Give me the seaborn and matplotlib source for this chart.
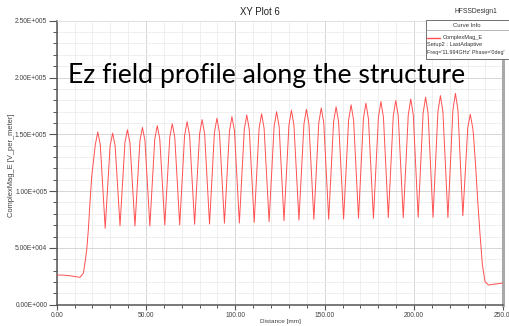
import math
import matplotlib
matplotlib.use("Agg")
import matplotlib.pyplot as plt
from matplotlib.lines import Line2D
from matplotlib.patches import Rectangle
from matplotlib.ticker import MultipleLocator, FuncFormatter
import pandas as pd
import seaborn as sns

# |E| along the structure, field values in kV/m, distance in mm
lead_in_mm = [0.0, 4.0, 8.4, 11.0, 13.0, 14.9, 15.8, 16.8, 17.7, 18.6, 19.6]
lead_in_kv = [26.1, 26.0, 25.3, 24.6, 24.1, 27.6, 36.4, 48.2, 65.8, 89.3, 112.7]

peak_mm = [23.0, 31.3, 39.6, 48.0, 56.3, 64.7, 73.0, 81.4, 89.7, 98.1,
           106.4, 114.7, 123.1, 131.4, 139.8, 148.1, 156.4, 164.8, 173.1,
           181.5, 189.8, 198.2, 206.5, 214.8, 223.2, 231.5]
peak_kv = [152.0, 151.0, 154.0, 156.0, 157.6, 159.3, 161.1, 162.9, 164.1,
           165.5, 167.0, 168.1, 169.9, 171.1, 172.0, 173.2, 174.2, 175.9,
           177.4, 178.8, 179.8, 181.1, 182.7, 184.1, 186.0, 167.6]
# level of each peak's rounded top, read 1.4 mm either side of the maximum
shoulder_kv = [140.7, 139.9, 142.7, 144.4, 145.8, 147.4, 149.0, 150.6, 151.7,
               152.9, 154.3, 155.3, 157.0, 158.1, 159.0, 160.1, 161.0, 162.5,
               163.8, 165.1, 166.0, 167.1, 168.5, 169.8, 171.5, 155.6]
shoulder_halfwidth_mm = 1.4

valley_mm = [27.15, 35.45, 43.8, 52.15, 60.5, 68.85, 77.2, 85.55, 93.9,
             102.25, 110.55, 118.9, 127.25, 135.6, 143.95, 152.25, 160.6,
             168.95, 177.3, 185.65, 194.0, 202.35, 210.65, 219.0, 227.35]
valley_kv = [67.3, 69.5, 69.3, 69.3, 70.2, 70.2, 70.8, 71.0, 71.7, 71.9,
             72.5, 73.1, 73.9, 74.6, 75.2, 75.2, 75.4, 76.1, 76.1, 76.6,
             76.6, 76.9, 76.9, 76.6, 78.3]

tail_mm = [233.3, 234.6, 235.7, 237.0, 238.3, 239.8, 241.7, 245.4, 250.0]
tail_kv = [149.4, 120.0, 90.7, 61.4, 35.0, 20.2, 17.3, 18.2, 19.1]

# assemble the trace: lead-in, then shoulder / peak / shoulder / valley per cell
xs, ys = list(lead_in_mm), list(lead_in_kv)
for i, (pm, pk, sk) in enumerate(zip(peak_mm, peak_kv, shoulder_kv)):
    xs += [pm - shoulder_halfwidth_mm, pm, pm + shoulder_halfwidth_mm]
    ys += [sk, pk, sk]
    if i < len(valley_mm):
        xs.append(valley_mm[i])
        ys.append(valley_kv[i])
xs += tail_mm
ys += tail_kv
df = pd.DataFrame({"distance": xs, "field": [v * 1000.0 for v in ys]})

sns.set_theme(style="white")
plt.rcParams["font.family"] = ["Liberation Sans", "DejaVu Sans"]

W, H = 510, 326
fig = plt.figure(figsize=(W / 100, H / 100), dpi=100)
fig.patch.set_facecolor("white")


def fx(px):
    return px / W


def fy(py):
    return 1 - py / H


ax = fig.add_axes([fx(56.7), fy(304.7), fx(503.3) - fx(56.7), fy(20.7) - fy(304.7)])
ax.set_facecolor("white")

sns.lineplot(data=df, x="distance", y="field", ax=ax, color="#ff5050",
             linewidth=0.7, sort=False, estimator=None, legend=False, zorder=3)

ax.set_xlim(0, 250)
ax.set_ylim(0, 2.5e5)
ax.xaxis.set_major_locator(MultipleLocator(50))
ax.xaxis.set_minor_locator(MultipleLocator(10))
ax.yaxis.set_major_locator(MultipleLocator(5e4))
ax.yaxis.set_minor_locator(MultipleLocator(1e4))


def sci(v, _):
    if v == 0:
        return "0.00E+000"
    e = int(math.floor(math.log10(abs(v))))
    return f"{v / 10 ** e:.2f}E+{e:03d}"


ax.yaxis.set_major_formatter(FuncFormatter(sci))
ax.xaxis.set_major_formatter(FuncFormatter(lambda v, _: f"{v:.2f}"))

ax.grid(which="major", color="#d6d6d6", linewidth=0.7)
ax.grid(which="minor", color="#ececec", linewidth=0.6)
ax.set_axisbelow(True)

for side in ("left", "bottom"):
    ax.spines[side].set_color("#555555")
    ax.spines[side].set_linewidth(1.1)
ax.spines["top"].set_color("#e2e2e2")
ax.spines["top"].set_linewidth(0.6)
ax.spines["right"].set_color("#a9a9a9")
ax.spines["right"].set_linewidth(2.2)

ax.tick_params(axis="y", which="major", direction="out", length=5.8, width=0.8,
               color="#555555", labelsize=4.8, labelcolor="#404040", pad=1.0, left=True)
ax.tick_params(axis="y", which="minor", direction="out", length=2.9, width=0.7,
               color="#555555", left=True)
ax.tick_params(axis="x", which="major", direction="out", length=3.6, width=0.8,
               color="#555555", labelsize=4.8, labelcolor="#404040", pad=1.5, bottom=True)
ax.tick_params(axis="x", which="minor", direction="out", length=2.2, width=0.7,
               color="#555555", bottom=True)

ax.set_xlabel("")
ax.set_ylabel("")
fig.text(fx(280), fy(322), "Distance [mm]", ha="center", va="center",
         fontsize=4.6, color="#404040")
fig.text(fx(12), fy(165), "ComplexMag_E [V_per_meter]", ha="center", va="center",
         rotation=90, fontsize=5.4, color="#404040")

fig.text(fx(260), fy(11.7), "XY Plot 6", ha="center", va="center",
         fontsize=6.9, color="#222222")
fig.text(fx(497), fy(11.7), "HFSSDesign1", ha="right", va="center",
         fontsize=4.9, color="#333333")

# curve info box
box = Rectangle((fx(425.7), fy(59)), fx(509) - fx(425.7), fy(20) - fy(59),
                transform=fig.transFigure, facecolor="white", edgecolor="#707070",
                linewidth=0.7, zorder=10)
fig.add_artist(box)
fig.add_artist(Line2D([fx(425.7), fx(509)], [fy(30), fy(30)],
                      transform=fig.transFigure, color="#9a9a9a", linewidth=0.5, zorder=11))
fig.text(fx(467), fy(25.5), "Curve Info", ha="center", va="center",
         fontsize=4.3, color="#333333", zorder=12)
fig.add_artist(Line2D([fx(427.5), fx(439.5)], [fy(37.7), fy(37.7)],
                      transform=fig.transFigure, color="#ff5050", linewidth=1.0, zorder=12))
fig.text(fx(443), fy(37.7), "ComplexMag_E", ha="left", va="center",
         fontsize=4.1, color="#333333", zorder=12)
fig.text(fx(427), fy(44.3), "Setup2 : LastAdaptive", ha="left", va="center",
         fontsize=4.1, color="#333333", zorder=12)
fig.text(fx(427), fy(52.3), "Freq='11.994GHz' Phase='0deg'", ha="left", va="center",
         fontsize=3.9, color="#333333", zorder=12)

fig.text(fx(68), fy(82.7), "Ez field profile along the structure", ha="left",
         va="baseline", fontsize=19.2, color="black", family=["Lato", "DejaVu Sans"])

fig.savefig("out.png", dpi=100, facecolor="white")
